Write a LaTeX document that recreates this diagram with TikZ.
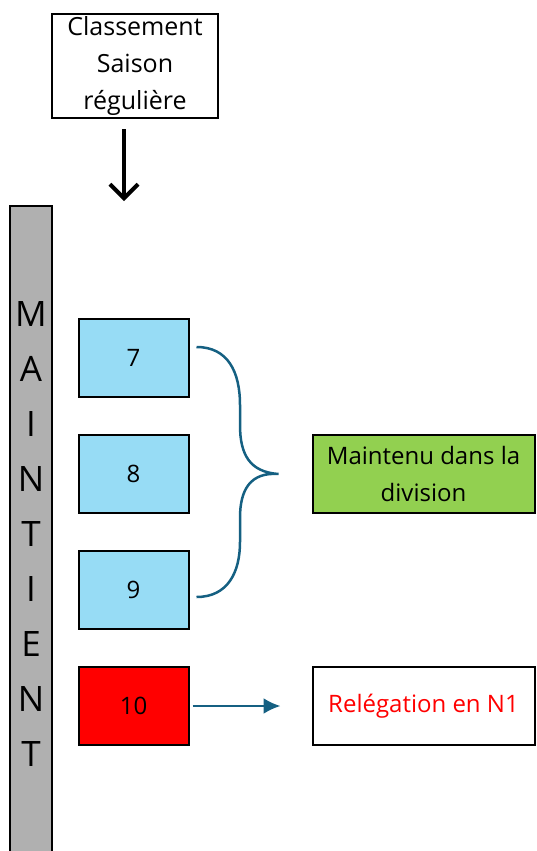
\documentclass[tikz,border=0pt]{standalone}
\usepackage{fontspec}
\setmainfont{Open Sans}
\usepackage{xcolor}
\usetikzlibrary{positioning,calc,arrows.meta}
\definecolor{bleuclair}{RGB}{151,220,245}
\definecolor{grisbarre}{RGB}{176,176,176}
\definecolor{vertmaintien}{RGB}{146,208,80}
\definecolor{bleufleche}{RGB}{21,96,130}
\begin{document}
\begin{tikzpicture}[x=1pt,y=-1pt,node distance=36pt,
	boite/.style={draw=black,line width=2pt,minimum width=110pt,minimum height=78pt,inner sep=0pt,font=\fontsize{24}{37}\selectfont},
	equipe/.style={boite,fill=bleuclair},
	issue/.style={boite,minimum width=222pt,align=center},
	accolade/.style={line width=2.5pt,bleufleche},
	fleche/.style={-{Latex[length=17pt,width=16pt]},line width=2.5pt,bleufleche}]
	\useasboundingbox (0,0) rectangle (537,851);
	% barre verticale
	\node[draw=black,line width=2pt,fill=grisbarre,anchor=north,minimum width=42pt,minimum height=656pt,inner sep=0pt,align=center,font=\fontsize{35}{55}\selectfont] (barre) at (31,205) {M\\A\\I\\N\\T\\I\\E\\N\\T};
	\node[boite,minimum width=166pt,minimum height=104pt,align=center,font=\fontsize{25}{37}\selectfont] (titre) at (135,66) {Classement\\Saison\\régulière};
	\draw[-{Straight Barb[length=14pt,width=28pt]},line width=4pt] ($(titre.south)+(-11,10)$) coordinate (haut) -- ($(titre.south)+(-11,82)$) coordinate (bas);
	% equipes
	\node[equipe] (b7) at (133.5,358) {7};
	\node[equipe,below=of b7] (b8) {8};
	\node[equipe,below=of b8] (b9) {9};
	\node[boite,fill=red,below=of b9] (b10) {10};
	\node[issue,fill=vertmaintien,right=122pt of b8] (maintien) {Maintenu dans la\\division};
	\node[issue,text=red,right=122pt of b10] (releg) {Relégation en N1};
	\coordinate (achaut) at ($(b7.east)+(7,-11)$);
	\coordinate (acbas) at ($(b9.east)+(7,7)$);
	\coordinate (pointe) at ($(maintien.west)+(-33,0)$);
	\draw[accolade] (achaut) .. controls (228,347) and (240,372) .. (240,405) -- (240,425) .. controls (240,455) and (250,472) .. (pointe) .. controls (250,472) and (240,490) .. (240,518) -- (240,542) .. controls (240,572) and (228,597) .. (acbas);
	\draw[fleche] ([xshift=3pt]b10.east) -- ([xshift=-31pt]releg.west);
\end{tikzpicture}
\end{document}
